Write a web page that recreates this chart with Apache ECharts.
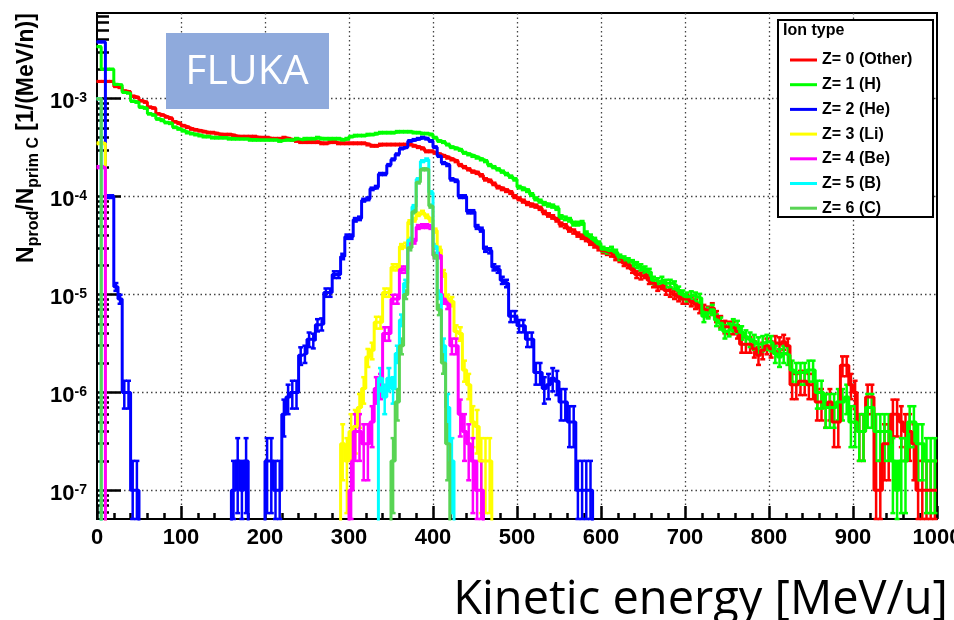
<!DOCTYPE html>
<html>
<head>
<meta charset="utf-8">
<title>Fragment spectra</title>
<script src="https://cdn.jsdelivr.net/npm/echarts@6.0.0/dist/echarts.min.js"></script>
<style>
html, body { margin: 0; padding: 0; background: #fff; }
#chart { width: 954px; height: 620px; }
</style>
</head>
<body>
<div id="chart"></div>
<script>
var BIN_WIDTH = 5;      // MeV/u
var N_BINS = 200;       // 0 - 1000 MeV/u
var COUNT_UNIT = 1e-7;  // one entry
var Y_MIN = 5.1e-8;
var Y_MAX = 7.5e-3;
var ROOT_FONT = 'Liberation Sans';

var ionNames = ['Z= 0 (Other)', 'Z= 1 (H)', 'Z= 2 (He)', 'Z= 3 (Li)', 'Z= 4 (Be)', 'Z= 5 (B)', 'Z= 6 (C)'];
var ionColors = ['#ff0000', '#00ff00', '#0000ff', '#ffff00', '#ff00ff', '#00ffff', '#59d454'];

// bin contents from 0 MeV/u, 5 MeV/u per bin
var otherValues = [
  1.5e-3, 1.5e-3, 1.5e-3, 1.5e-3, 1.33e-3, 1.3e-3, 1.2e-3, 1.18e-3, 1.06e-3, 1.03e-3,
  9.5e-4, 9.2e-4, 8.2e-4, 8.0e-4, 7.0e-4, 6.8e-4, 6.5e-4, 6.3e-4, 5.8e-4, 5.6e-4,
  5.3e-4, 5.1e-4, 4.9e-4, 4.8e-4, 4.7e-4, 4.6e-4, 4.5e-4, 4.5e-4, 4.4e-4, 4.3e-4,
  4.3e-4, 4.3e-4, 4.2e-4, 4.1e-4, 4.1e-4, 4.1e-4, 4.1e-4, 4.1e-4, 4.0e-4, 4.0e-4,
  4.0e-4, 3.9e-4, 3.9e-4, 3.9e-4, 4.0e-4, 3.9e-4, 3.8e-4, 3.7e-4, 3.6e-4, 3.6e-4,
  3.6e-4, 3.6e-4, 3.6e-4, 3.5e-4, 3.5e-4, 3.6e-4,
  3.6e-4, 3.5e-4, 3.5e-4, 3.5e-4, 3.5e-4, 3.5e-4, 3.5e-4, 3.5e-4, 3.4e-4, 3.3e-4,
  3.3e-4, 3.4e-4, 3.4e-4, 3.4e-4, 3.4e-4, 3.4e-4, 3.4e-4, 3.4e-4, 3.4e-4, 3.3e-4,
  3.2e-4, 3.1e-4, 2.9e-4, 2.9e-4, 2.8e-4, 2.7e-4, 2.6e-4, 2.5e-4, 2.4e-4, 2.3e-4,
  2.1e-4, 2.0e-4, 1.9e-4, 1.8e-4, 1.75e-4, 1.65e-4, 1.5e-4, 1.45e-4, 1.35e-4, 1.25e-4,
  1.2e-4, 1.15e-4, 1.1e-4, 1.0e-4, 9.5e-5, 9e-5, 8.5e-5, 8.2e-5, 8e-5, 7.6e-5,
  6.9e-5, 6.5e-5, 6.2e-5, 5.8e-5, 5.2e-5, 5e-5, 4.6e-5, 4.4e-5, 4.1e-5, 3.9e-5,
  3.7e-5, 3.4e-5, 3.2e-5, 3.0e-5, 2.8e-5, 2.7e-5, 2.6e-5, 2.4e-5, 2.3e-5, 2.1e-5,
  2.0e-5, 1.8e-5, 1.6e-5, 1.55e-5, 1.6e-5, 1.4e-5, 1.3e-5, 1.2e-5, 1.25e-5, 1.1e-5,
  1.05e-5, 1.0e-5, 9.5e-6, 9e-6, 9e-6, 8.5e-6, 8e-6,
  7.3e-6, 7.0e-6, 6.7e-6, 7.3e-6, 6.0e-6, 5.3e-6, 4.7e-6, 4.6e-6, 4.6e-6, 4.2e-6,
  3.1e-6, 3.1e-6, 3.1e-6, 2.8e-6, 2.4e-6, 2.7e-6, 3.0e-6, 2.8e-6, 3.2e-6, 3.1e-6,
  3.3e-6, 3.0e-6, 1.2e-6, 1.2e-6, 1.3e-6, 1.3e-6, 1.2e-6, 1.2e-6, 8e-7, 8e-7,
  7e-7, 8e-7, 5e-7, 5e-7, 1.9e-6, 1.9e-6, 1.2e-6, 1.0e-6, 4e-7, 4e-7,
  9e-7, 9e-7, 1e-7, 1e-7, 3e-7, 3e-7, 6e-7, 6e-7, 5e-7, 4e-7,
  4e-7, 3e-7, 1e-7, 1e-7, 1e-7, 1e-7, 1e-7
];

var hValues = [
  3.4e-3, 2.0e-3, 2.0e-3, 2.0e-3, 1.4e-3, 1.38e-3, 1.16e-3, 1.14e-3, 9.4e-4, 9.2e-4,
  8.2e-4, 8.0e-4, 7.0e-4, 6.8e-4, 6.2e-4, 6.0e-4, 5.7e-4, 5.6e-4, 5.1e-4, 4.9e-4,
  4.7e-4, 4.5e-4, 4.4e-4, 4.3e-4, 4.2e-4, 4.1e-4, 4.1e-4, 4.0e-4, 4.0e-4, 4.0e-4,
  4.0e-4, 3.9e-4, 3.9e-4, 3.9e-4, 3.9e-4, 3.9e-4, 3.8e-4, 3.8e-4, 3.8e-4, 3.8e-4,
  3.8e-4, 3.8e-4, 3.8e-4, 3.7e-4, 3.8e-4, 3.8e-4, 3.8e-4, 3.9e-4, 3.8e-4, 3.9e-4,
  3.9e-4, 3.9e-4, 4.0e-4, 3.9e-4, 3.9e-4, 3.9e-4,
  3.9e-4, 3.9e-4, 3.8e-4, 3.9e-4, 4.1e-4, 4.2e-4, 4.2e-4, 4.2e-4, 4.3e-4, 4.3e-4,
  4.4e-4, 4.5e-4, 4.5e-4, 4.5e-4, 4.5e-4, 4.6e-4, 4.6e-4, 4.6e-4, 4.6e-4, 4.5e-4,
  4.5e-4, 4.4e-4, 4.4e-4, 4.3e-4, 4.0e-4, 3.7e-4, 3.6e-4, 3.4e-4, 3.2e-4, 3.1e-4,
  3.0e-4, 2.8e-4, 2.7e-4, 2.6e-4, 2.5e-4, 2.4e-4, 2.3e-4, 2.1e-4, 2.0e-4, 1.9e-4,
  1.8e-4, 1.7e-4, 1.6e-4, 1.5e-4, 1.25e-4, 1.2e-4, 1.15e-4, 1.05e-4, 9.5e-5, 9e-5,
  8.5e-5, 8.2e-5, 8e-5, 7.6e-5, 6.2e-5, 6e-5, 5.8e-5, 5.3e-5, 5.3e-5, 5.4e-5,
  4.2e-5, 3.9e-5, 3.6e-5, 3.3e-5, 2.9e-5, 2.8e-5, 2.9e-5, 2.7e-5, 2.4e-5, 2.3e-5,
  2.2e-5, 2.1e-5, 2.0e-5, 1.9e-5, 1.8e-5, 1.7e-5, 1.4e-5, 1.35e-5, 1.4e-5, 1.3e-5,
  1.3e-5, 1.25e-5, 1.1e-5, 1.0e-5, 9.5e-6, 9.8e-6, 9.5e-6,
  9.2e-6, 6.0e-6, 6.5e-6, 7.0e-6, 5.5e-6, 5.1e-6, 4.2e-6, 4.4e-6, 4.9e-6, 4.7e-6,
  4.1e-6, 3.7e-6, 3.5e-6, 3.3e-6, 3.1e-6, 3.2e-6, 3.3e-6, 3.2e-6, 2.5e-6, 2.3e-6,
  2.5e-6, 2.4e-6, 1.7e-6, 1.6e-6, 1.6e-6, 1.6e-6, 1.7e-6, 1.7e-6, 1.0e-6, 1.0e-6,
  7e-7, 7e-7, 7e-7, 8e-7, 8e-7, 9e-7, 5e-7, 5e-7, 4e-7, 4e-7,
  7e-7, 7e-7, 4e-7, 4e-7, 4e-7, 4e-7, 2e-7, 1e-7, 2e-7, 2e-7,
  5e-7, 5e-7, 3e-7, 3e-7, 2e-7, 2e-7, 2e-7
];

var heValues = [
  3.8e-3, 3.8e-3, 1e-4, 1e-4, 1.2e-5, 9e-6, 1e-6, 1e-6, 1e-7, 1e-7,
  0, 0, 0, 0, 0, 0, 0, 0, 0, 0, 0, 0, 0, 0, 0, 0, 0, 0, 0, 0, 0, 0,
  1e-7, 2e-7, 1e-7, 2e-7, 0, 0, 0, 0, 2e-7, 2e-7, 1e-7, 1e-7,
  6e-7, 9e-7, 1e-6, 1e-6, 2.4e-6, 2.5e-6, 3.5e-6, 3.4e-6, 4.9e-6, 5e-6,
  1.05e-5, 1.05e-5, 1.6e-5, 1.6e-5, 2.45e-5, 3.9e-5,
  3.9e-5, 5.8e-5, 6e-5, 9.2e-5, 9.5e-5, 1.2e-4, 1.25e-4, 1.7e-4, 1.7e-4, 2.1e-4,
  2.4e-4, 2.7e-4, 3.1e-4, 3.2e-4, 3.7e-4, 3.8e-4, 3.9e-4, 4.0e-4, 3.9e-4, 3.7e-4,
  3.2e-4, 2.6e-4, 2.2e-4, 2.1e-4, 1.5e-4, 1.45e-4, 1.0e-4, 1.0e-4, 7e-5, 7e-5,
  4.9e-5, 4.6e-5, 2.9e-5, 2.8e-5, 1.9e-5, 1.8e-5, 1.4e-5, 1.3e-5, 6e-6, 6e-6,
  4.8e-6, 4.8e-6, 3.5e-6, 3.5e-6, 1.6e-6, 1.6e-6, 1.1e-6, 1.2e-6, 1.4e-6, 1.3e-6,
  8e-7, 8e-7, 5e-7, 5e-7, 1e-7, 1e-7, 1e-7, 1e-7
];

// heavier fragments: a spike in the first bins and a peak near the beam energy
var liLow = [3.5e-4, 3.5e-4];
var liPeakStart = 290;
var liPeak = [
  3e-7, 2e-7, 4e-7, 4.5e-7, 7e-7, 1.1e-6, 2.3e-6, 2.7e-6, 5.2e-6, 5.2e-6,
  1.05e-5, 1.05e-5, 1.9e-5, 1.9e-5, 3.1e-5, 3.2e-5, 5.5e-5, 5.8e-5, 6.6e-5, 6.9e-5,
  6.3e-5, 5.8e-5, 4.5e-5, 2.9e-5, 1.65e-5, 9e-6, 8.5e-6, 4.2e-6, 4e-6, 1.7e-6,
  1.2e-6, 5e-7, 4.5e-7, 2e-7, 2e-7, 2e-7
];

var beLow = [2e-4, 2e-4];
var bePeakStart = 300;
var bePeak = [
  1e-7, 4e-7, 4e-7, 3e-7, 3e-7, 5e-7, 1.1e-6, 1.2e-6, 4e-6, 4e-6,
  9e-6, 9e-6, 1.8e-5, 1.8e-5, 3.3e-5, 3.5e-5, 4.9e-5, 5.0e-5, 5.0e-5, 4.9e-5,
  2.5e-5, 2.5e-5, 9e-6, 8e-6, 3e-6, 3e-6, 6e-7, 4e-7, 3e-7, 2e-7,
  1e-7, 1e-7
];

var bLow = [1e-3];
var bPeakStart = 335;
var bPeak = [
  1.4e-6, 9e-7, 1.4e-6, 1.1e-6, 2.5e-6, 5.5e-6, 1.3e-5, 3.6e-5, 7.9e-5, 1.5e-4,
  2.3e-4, 2.4e-4, 1.1e-4, 3.1e-5, 1e-5, 3e-6, 7e-7, 2e-7
];

var cLow = [1e-3];
var cPeakStart = 350;
var cPeak = [
  2e-7, 8e-7, 3e-6, 1e-5, 3e-5, 7e-5, 1.4e-4, 1.9e-4, 1.9e-4, 8e-5,
  2.5e-5, 7e-6, 2e-6, 3e-7
];

var ionSegments = [
  [[0, otherValues]],
  [[0, hValues]],
  [[0, heValues]],
  [[0, liLow], [liPeakStart, liPeak]],
  [[0, beLow], [bePeakStart, bePeak]],
  [[0, bLow], [bPeakStart, bPeak]],
  [[0, cLow], [cPeakStart, cPeak]]
];

function fillBins(segments) {
  var v = [];
  for (var i = 0; i < N_BINS; i++) v.push(0);
  segments.forEach(function (s) {
    var first = s[0] / BIN_WIDTH;
    s[1].forEach(function (val, k) { v[first + k] = val; });
  });
  return v;
}

// empty bins go far below the frame, the grid clips them away
function stepData(values) {
  var d = values.map(function (val, i) {
    return [i * BIN_WIDTH, val > 0 ? val : 1e-12];
  });
  d.push([N_BINS * BIN_WIDTH, d[d.length - 1][1]]);
  return d;
}

function errorData(values) {
  var d = [];
  values.forEach(function (val, i) {
    if (val <= 0) return;
    var err = Math.sqrt(val * COUNT_UNIT);
    d.push([(i + 0.5) * BIN_WIDTH, Math.max(val - err, Y_MIN), val + err]);
  });
  return d;
}

function renderError(params, api) {
  var x = api.value(0);
  var lo = api.coord([x, api.value(1)]);
  var hi = api.coord([x, api.value(2)]);
  var cap = 2.5;
  var style = { stroke: api.visual('color'), lineWidth: 2.5 };
  return {
    type: 'group',
    children: [
      { type: 'line', shape: { x1: lo[0], y1: lo[1], x2: hi[0], y2: hi[1] }, style: style },
      { type: 'line', shape: { x1: lo[0] - cap, y1: lo[1], x2: lo[0] + cap, y2: lo[1] }, style: style },
      { type: 'line', shape: { x1: hi[0] - cap, y1: hi[1], x2: hi[0] + cap, y2: hi[1] }, style: style }
    ]
  };
}

var series = [];
ionNames.forEach(function (name, k) {
  var values = fillBins(ionSegments[k]);
  series.push({
    name: name,
    type: 'line',
    step: 'end',
    data: stepData(values),
    symbol: 'none',
    lineStyle: { color: ionColors[k], width: 3 },
    itemStyle: { color: ionColors[k] },
    silent: true
  });
  series.push({
    name: name + ' errors',
    type: 'custom',
    renderItem: renderError,
    data: errorData(values),
    encode: { x: 0, y: [1, 2] },
    itemStyle: { color: ionColors[k] },
    silent: true
  });
});

// minor log ticks 2..9 x 10^n, on a helper axis in log10 units
var minorTickExps = [];
for (var dec = -8; dec <= -3; dec++) {
  for (var m = 2; m <= 9; m++) {
    var e = Math.log10(m) + dec;
    if (e > Math.log10(Y_MIN) && e < Math.log10(Y_MAX)) minorTickExps.push(e);
  }
}

var dotted = { color: '#444', type: [1.5, 3], width: 1.3 };
var black = { color: '#000', width: 2.5 };

var myChart = echarts.init(document.getElementById('chart'));
var option = {
  animation: false,
  grid: {
    left: 97, right: 17, top: 13, bottom: 101,
    show: true, borderColor: '#000', borderWidth: 2,
    outerBoundsMode: 'none'
  },
  xAxis: {
    type: 'value', min: 0, max: 1000, interval: 100,
    axisLine: { lineStyle: { color: '#000', width: 2 } },
    axisTick: { inside: true, length: 13, lineStyle: black },
    minorTick: { show: true, splitNumber: 5, length: 6, lineStyle: black },
    axisLabel: {
      margin: 8, color: '#000', fontFamily: ROOT_FONT, fontWeight: 'bold', fontSize: 22,
      formatter: function (v) { return String(v); }
    },
    splitLine: { show: true, showMinLine: false, showMaxLine: false, lineStyle: dotted }
  },
  yAxis: [{
    type: 'log', logBase: 10, min: Y_MIN, max: Y_MAX,
    axisLine: { show: true, lineStyle: { color: '#000', width: 2 } },
    axisTick: { inside: true, length: 24, lineStyle: black },
    axisLabel: {
      margin: 10, showMinLabel: false, showMaxLabel: false, padding: [7, 0, 0, 0],
      formatter: function (v) {
        var ex = Math.log10(v);
        if (Math.abs(ex - Math.round(ex)) > 1e-6) return '';
        return '{b|10}{s|' + Math.round(ex) + '}';
      },
      rich: {
        b: { fontSize: 22, fontWeight: 'bold', fontFamily: ROOT_FONT, color: '#000', lineHeight: 22, verticalAlign: 'bottom' },
        s: { fontSize: 14, fontWeight: 'bold', fontFamily: ROOT_FONT, color: '#000', lineHeight: 14, verticalAlign: 'top' }
      }
    },
    splitLine: { show: true, showMinLine: false, showMaxLine: false, lineStyle: dotted }
  }, {
    type: 'value', position: 'left',
    min: Math.log10(Y_MIN), max: Math.log10(Y_MAX),
    axisLine: { show: false },
    axisLabel: { show: false },
    splitLine: { show: false },
    axisTick: { show: true, inside: true, length: 12, customValues: minorTickExps, lineStyle: black }
  }],
  legend: {
    data: ionNames,
    orient: 'vertical', left: 785, top: 47,
    itemWidth: 27, itemHeight: 3, itemGap: 8.7, icon: 'rect',
    selectedMode: false, z: 20,
    textStyle: { fontFamily: ROOT_FONT, fontWeight: 'bold', fontSize: 16, color: '#000' }
  },
  graphic: [
    {
      type: 'rect', z: 10,
      shape: { x: 778, y: 20, width: 155, height: 197 },
      style: { fill: '#fff', stroke: '#000', lineWidth: 2 }
    },
    {
      type: 'text', z: 11, x: 783, y: 31,
      style: { text: 'Ion type', fill: '#000', font: 'bold 16px "Liberation Sans"', verticalAlign: 'middle' }
    },
    {
      type: 'rect', z: 10,
      shape: { x: 166, y: 33, width: 163, height: 76 },
      style: { fill: '#8faadc' }
    },
    {
      type: 'text', z: 11, x: 247, y: 72,
      style: { text: 'FLUKA', fill: '#fff', font: '41px "Open Sans"', align: 'center', verticalAlign: 'middle' }
    },
    {
      type: 'text', z: 11, x: 27, y: 138, rotation: Math.PI / 2,
      style: {
        text: '{n|N}{sub|prod}{n|/N}{sub|prim C}{n| [1/(MeV/n)]}',
        align: 'center', verticalAlign: 'middle',
        rich: {
          n: { fontSize: 23, fontWeight: 'bold', fontFamily: ROOT_FONT, fill: '#000', lineHeight: 23, verticalAlign: 'top' },
          sub: { fontSize: 16, fontWeight: 'bold', fontFamily: ROOT_FONT, fill: '#000', lineHeight: 16, padding: [10, 0, 0, 0], verticalAlign: 'top' }
        }
      }
    },
    {
      type: 'text', z: 11, x: 948, y: 601,
      style: { text: 'Kinetic energy [MeV/u]', fill: '#000', font: '47px "Open Sans"', align: 'right', verticalAlign: 'middle' }
    }
  ],
  series: series
};
if (option && typeof option === 'object') {
  myChart.setOption(option, true);
}
</script>
</body>
</html>
